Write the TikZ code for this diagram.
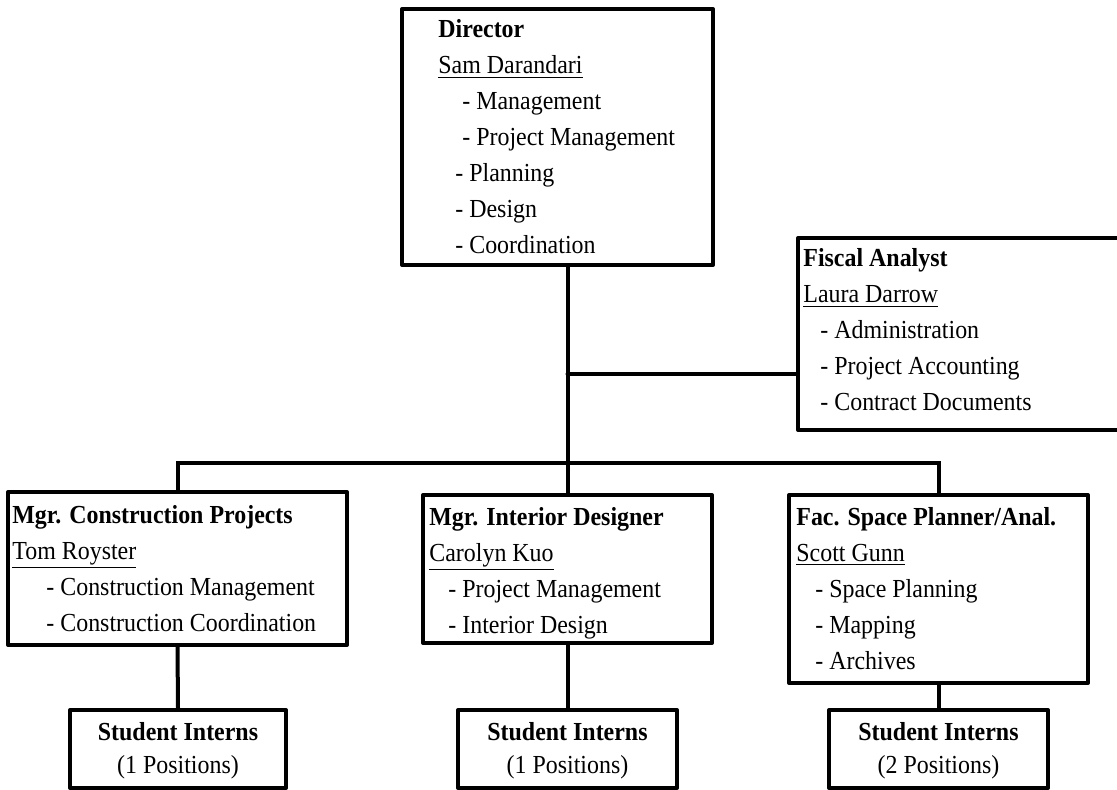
\documentclass[tikz,border=0pt]{standalone}
\usepackage{fontspec}
\setmainfont[FakeStretch=0.92]{Liberation Serif}
\usetikzlibrary{fit}
\begin{document}
\begin{tikzpicture}[x=0.5pt,y=-0.5pt,
  unit/.style={draw,line width=2pt,inner sep=0pt,line join=round},
  link/.style={line width=2pt,line cap=round},
  block/.style={anchor=base west,inner sep=0pt,font=\fontsize{13}{18}\selectfont},
  intern/.style={anchor=base,inner sep=0pt,font=\fontsize{13}{16.5}\selectfont}]
\useasboundingbox (0,0) rectangle (1117,790);
\clip (0,0) rectangle (1117,790);

% boxes
\node[unit,fit={(402,9)(713,265)}] (dir) {};
\node[unit,fit={(798,238)(1130,430)}] (fis) {};
\node[unit,fit={(8,492)(347,645)}] (con) {};
\node[unit,fit={(423,495)(712,643)}] (int) {};
\node[unit,fit={(789,495)(1088,683)}] (fac) {};
\node[unit,fit={(70,710)(286,788)}] (s1) {};
\node[unit,fit={(458,710)(677,788)}] (s2) {};
\node[unit,fit={(829,710)(1048,788)}] (s3) {};

% box texts
\node[block] (dirtxt) at (438,38) {\begin{tabular}[t]{@{}l@{}}
  \textbf{Director}\\
  \underline{Sam Darandari}\\
  \hspace*{12pt}- Management\\
  \hspace*{12pt}- Project Management\\
  \hspace*{8.5pt}- Planning\\
  \hspace*{8.5pt}- Design\\
  \hspace*{8.5pt}- Coordination
\end{tabular}};
\node[block] (fistxt) at (803,267) {\begin{tabular}[t]{@{}l@{}}
  \textbf{Fiscal Analyst}\\
  \underline{Laura Darrow}\\
  \hspace*{8.5pt}- Administration\\
  \hspace*{8.5pt}- Project Accounting\\
  \hspace*{8.5pt}- Contract Documents
\end{tabular}};
\node[block] (contxt) at (12,523) {\begin{tabular}[t]{@{}l@{}}
  \textbf{Mgr. Construction Projects}\\
  \underline{Tom Royster}\\
  \hspace*{17pt}- Construction Management\\
  \hspace*{17pt}- Construction Coordination
\end{tabular}};
\node[block] (inttxt) at (429,525) {\begin{tabular}[t]{@{}l@{}}
  \textbf{Mgr. Interior Designer}\\
  \underline{Carolyn Kuo}\\
  \hspace*{9.5pt}- Project Management\\
  \hspace*{9.5pt}- Interior Design
\end{tabular}};
\node[block] (factxt) at (796,525) {\begin{tabular}[t]{@{}l@{}}
  \textbf{Fac. Space Planner/Anal.}\\
  \underline{Scott Gunn}\\
  \hspace*{9.5pt}- Space Planning\\
  \hspace*{9.5pt}- Mapping\\
  \hspace*{9.5pt}- Archives
\end{tabular}};
\node[intern] (s1txt) at (s1.center |- 0,740) {\begin{tabular}[t]{@{}c@{}}\textbf{Student Interns}\\(1 Positions)\end{tabular}};
\node[intern] (s2txt) at (s2.center |- 0,740) {\begin{tabular}[t]{@{}c@{}}\textbf{Student Interns}\\(1 Positions)\end{tabular}};
\node[intern] (s3txt) at (s3.center |- 0,740) {\begin{tabular}[t]{@{}c@{}}\textbf{Student Interns}\\(2 Positions)\end{tabular}};

% connectors
\coordinate (bar) at (567.5,463);
\coordinate (fj) at (567.5,374);
\draw[link] (int.north |- dir.south) -- (int.north);
\draw[link] (fj) -- (fj -| fis.west);
\draw[link] (con.north) -- (con.north |- bar) -- (fac.north |- bar) -- (fac.north);
\draw[link] (con.south) -- (s1.north);
\draw[link] (int.south) -- (s2.north);
\draw[link] (fac.south) -- (s3.north);
\end{tikzpicture}
\end{document}
